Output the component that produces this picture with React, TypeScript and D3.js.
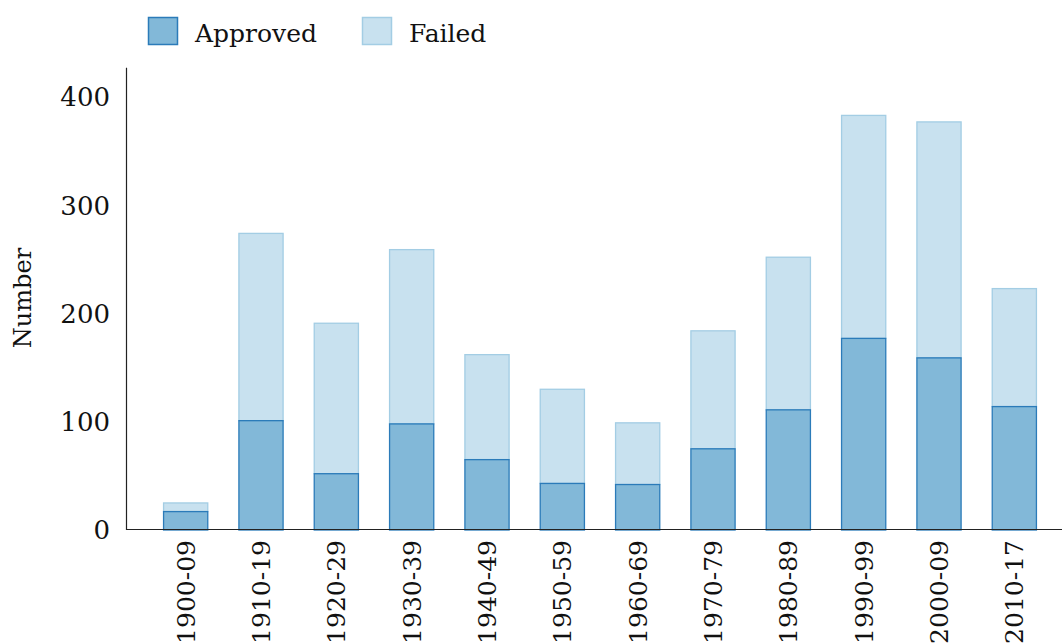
import React from "react";
import * as d3 from "d3";

const categories = ["1900-09","1910-19","1920-29","1930-39","1940-49","1950-59","1960-69","1970-79","1980-89","1990-99","2000-09","2010-17"];
const approved = [17, 101, 52, 98, 65, 43, 42, 75, 111, 177, 159, 114];
const failed = [8, 173, 139, 161, 97, 87, 57, 109, 141, 206, 218, 109];
const yTicks = [0, 100, 200, 300, 400];
const seriesNames = ["Approved", "Failed"];

const W = 1062, H = 644;
const FONT = "DejaVu Serif";

export default function App() {
  const x = d3.scaleBand<string>().domain(categories).range([148, 1052]).paddingInner(0.4).paddingOuter(0.2);
  const y = d3.scaleLinear().domain([0, 400]).range([530, 97]);
  const yTop = y(427);
  const colors = [
    { fill: "#82b8d8", stroke: "#2b7bb9" },
    { fill: "#c8e1ef", stroke: "#a3cde4" },
  ];
  const stack = d3.stack<number>().keys(["0", "1"]).value((_d, key) => (key === "0" ? approved[_d] : failed[_d]));
  const series = stack(categories.map((_, i) => i));
  return (
    <svg width={W} height={H} style={{ position: "absolute", left: 0, top: 0, background: "#fff" }} fontFamily={FONT}>
      {/* legend */}
      {seriesNames.map((name, i) => {
        const lx = i === 0 ? 148 : 362;
        return (
          <g key={name}>
            <rect x={lx + 0.5} y={17.5} width={29} height={27} fill={colors[i].fill} stroke={colors[i].stroke} strokeWidth={1.5} />
            <text x={lx + 47} y={42} fontSize={25} fill="#111">{name}</text>
          </g>
        );
      })}
      {/* bars */}
      {[1, 0].map((si) => (
        <g key={si}>
          {series[si].map((d, j) => (
            <rect
              key={j}
              x={(x(categories[j]) as number) + 0.5}
              y={y(d[1])}
              width={x.bandwidth() - 1}
              height={y(d[0]) - y(d[1])}
              fill={colors[si].fill}
              stroke={colors[si].stroke}
              strokeWidth={1.3}
            />
          ))}
        </g>
      ))}
      {/* axes */}
      <line x1={126.5} x2={126.5} y1={yTop} y2={530} stroke="#222" strokeWidth={1.2} />
      <line x1={126} x2={1062} y1={529.5} y2={529.5} stroke="#222" strokeWidth={1.2} />
      {yTicks.map((t) => (
        <text key={t} x={110} y={y(t)} dy="0.36em" textAnchor="end" fontSize={26} fill="#111">{t}</text>
      ))}
      {categories.map((c) => {
        const cx = (x(c) as number) + x.bandwidth() / 2;
        return (
          <text key={c} transform={`translate(${cx},${540}) rotate(-90)`} dy="0.36em" textAnchor="end" fontSize={25} fill="#111">{c}</text>
        );
      })}
      <text transform={`translate(22,${298}) rotate(-90)`} dy="0.36em" textAnchor="middle" fontSize={24} fill="#111">Number</text>
    </svg>
  );
}
